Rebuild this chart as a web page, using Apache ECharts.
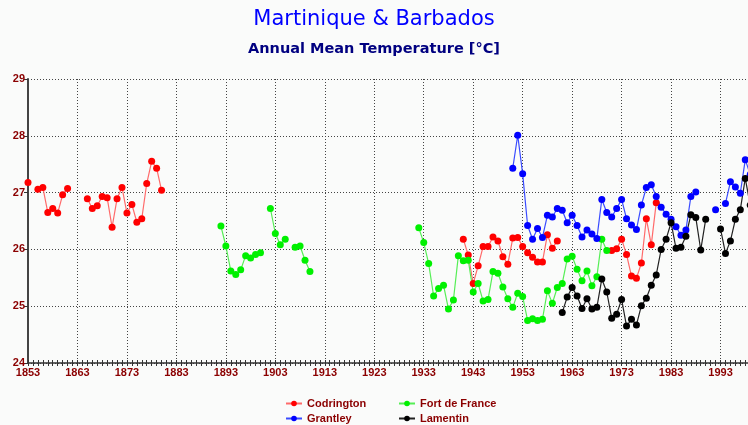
<!DOCTYPE html>
<html>
<head>
<meta charset="utf-8">
<script src="https://cdn.jsdelivr.net/npm/echarts@6/dist/echarts.min.js"></script>
<style>
html,body{margin:0;padding:0;background:#FAFBFA;}
#chart{width:748px;height:425px;}
</style>
</head>
<body>
<div id="chart"></div>
<script>
// ---- Data (null = missing year) ----
var xTickStart = 1853;
var xTickStep = 10;
var yTicks = [24, 25, 26, 27, 28, 29];

var codringtonStart = 1853;
var codringtonTemps = [
  27.18, null, 27.06, 27.09, 26.65, 26.72, 26.64, 26.96, 27.07, null, null, null,
  26.89, 26.72, 26.77, 26.93, 26.91, 26.39, 26.89, 27.09, 26.64, 26.79, 26.48, 26.54,
  27.16, 27.55, 27.43, 27.04
];
var codringtonStart2 = 1941;
var codringtonTemps2 = [
  26.18, 25.90, 25.40, 25.71, 26.05, 26.05, 26.22, 26.15, 25.87, 25.74,
  26.20, 26.21, 26.05, 25.94, 25.86, 25.78, 25.78, 26.26, 26.02, 26.15,
  null, null, null, null, null, null, null, null, null, null,
  25.98, 26.01, 26.18, 25.91, 25.53, 25.49, 25.76, 26.54, 26.08, 26.82
];

var fortDeFranceStart = 1892;
var fortDeFranceTemps = [
  26.41, 26.06, 25.62, 25.56, 25.64, 25.89, 25.85, 25.91, 25.94, null,
  26.72, 26.28, 26.08, 26.18, null, 26.04, 26.06, 25.81, 25.61
];
var fortDeFranceStart2 = 1932;
var fortDeFranceTemps2 = [
  26.38, 26.12, 25.75, 25.18, 25.31, 25.37, 24.95, 25.11, 25.89, 25.80,
  25.81, 25.25, 25.40, 25.09, 25.12, 25.61, 25.58, 25.34, 25.13, 24.98,
  25.23, 25.17, 24.75, 24.78, 24.75, 24.77, 25.27, 25.05, 25.33, 25.40,
  25.83, 25.88, 25.65, 25.45, 25.62, 25.36, 25.52, 26.18, 25.98
];

var grantleyStart = 1951;
var grantleyTemps = [
  27.43, 28.01, 27.33, 26.42, 26.18, 26.37, 26.21, 26.60, 26.57, 26.72,
  26.69, 26.47, 26.60, 26.42, 26.22, 26.34, 26.27, 26.19, 26.88, 26.65,
  26.57, 26.72, 26.88, 26.54, 26.43, 26.35, 26.78, 27.09, 27.14, 26.93,
  26.74, 26.62, 26.53, 26.40, 26.25, 26.34, 26.93, 27.01, null, null,
  null, 26.70, null, 26.81, 27.19, 27.10, 26.99, 27.58, 27.32
];

var lamentinStart = 1961;
var lamentinTemps = [
  24.89, 25.16, 25.33, 25.18, 24.96, 25.13, 24.95, 24.98, 25.48, 25.25,
  24.79, 24.86, 25.12, 24.65, 24.77, 24.67, 25.01, 25.14, 25.37, 25.55,
  26.00, 26.18, 26.47, 26.02, 26.04, 26.23, 26.61, 26.56, 25.99, 26.53,
  null, null, 26.36, 25.93, 26.15, 26.53, 26.70, 27.25, 26.78
];

var seriesNames = ['Codrington', 'Fort de France', 'Grantley', 'Lamentin'];

// ---- helpers ----
function toPairs(start, vals) {
  return vals.map(function (v, i) { return [start + i, v == null ? '-' : v]; });
}
function joinPairs(a, b) {
  return a.concat([[a[a.length - 1][0] + 1, '-']]).concat(b);
}

var codringtonData = joinPairs(toPairs(codringtonStart, codringtonTemps), toPairs(codringtonStart2, codringtonTemps2));
var fortData = joinPairs(toPairs(fortDeFranceStart, fortDeFranceTemps), toPairs(fortDeFranceStart2, fortDeFranceTemps2));
var grantleyData = toPairs(grantleyStart, grantleyTemps);
var lamentinData = toPairs(lamentinStart, lamentinTemps);

var labelRed = '#8B0000';
var font = "'Liberation Sans', Arial, sans-serif";

function mkSeries(name, data, dot, line) {
  return {
    name: name,
    type: 'line',
    data: data,
    connectNulls: false,
    symbol: 'circle',
    symbolSize: 7,
    showSymbol: true,
    clip: true,
    itemStyle: { color: dot },
    lineStyle: { color: line, width: 1.2 },
    emphasis: { disabled: true },
    z: 3
  };
}

var chart = echarts.init(document.getElementById('chart'), null, { renderer: 'canvas' });
chart.setOption({
  animation: false,
  backgroundColor: '#FAFBFA',
  title: [
    {
      text: 'Martinique & Barbados',
      left: 'center',
      top: 4,
      textStyle: { color: '#0000FF', fontSize: 21, fontWeight: 'normal', fontFamily: "'DejaVu Sans', sans-serif" }
    },
    {
      text: 'Annual Mean Temperature [°C]',
      left: 'center',
      top: 37,
      textStyle: { color: '#000080', fontSize: 14.5, fontWeight: 'bold', fontFamily: "'DejaVu Sans', sans-serif" }
    }
  ],
  legend: [
    {
      data: ['Codrington', 'Grantley'],
      orient: 'vertical',
      left: 285,
      top: 398,
      itemWidth: 16,
      itemHeight: 7,
      itemGap: 4,
      padding: 0,
      selectedMode: false,
      textStyle: { color: labelRed, fontSize: 11, fontWeight: 'bold', fontFamily: font, lineHeight: 11 }
    },
    {
      data: ['Fort de France', 'Lamentin'],
      orient: 'vertical',
      left: 398,
      top: 398,
      itemWidth: 16,
      itemHeight: 7,
      itemGap: 4,
      padding: 0,
      selectedMode: false,
      textStyle: { color: labelRed, fontSize: 11, fontWeight: 'bold', fontFamily: font, lineHeight: 11 }
    }
  ],
  grid: { left: 28, top: 79, width: 742, height: 284, containLabel: false, outerBoundsMode: 'none' },
  xAxis: [
    {
      type: 'value',
      min: xTickStart,
      max: 2003,
      interval: xTickStep,
      axisLine: { show: true, onZero: false, lineStyle: { color: '#333', width: 1.5 } },
      axisTick: { show: true, length: 3, lineStyle: { color: '#333' } },
      minorTick: { show: true, splitNumber: 10, length: 3, lineStyle: { color: '#333' } },
      axisLabel: {
        color: labelRed, fontSize: 11, fontWeight: 'bold', fontFamily: font, margin: 4,
        formatter: function (v) { return v > 1995 ? '' : String(v); }
      },
      splitLine: { show: true, lineStyle: { color: '#444', type: [1, 2], width: 1 } }
    },
    {
      type: 'value',
      min: xTickStart,
      max: 2003,
      interval: xTickStep,
      position: 'bottom',
      axisLine: { show: false },
      axisTick: { show: true, inside: true, length: 3, lineStyle: { color: '#333' } },
      minorTick: { show: true, splitNumber: 10, length: 3, lineStyle: { color: '#333' } },
      axisLabel: { show: false },
      splitLine: { show: false }
    }
  ],
  yAxis: {
    type: 'value',
    min: yTicks[0],
    max: yTicks[yTicks.length - 1],
    interval: 1,
    axisLine: { show: true, lineStyle: { color: '#444', width: 2 } },
    axisTick: { show: true, length: 4, lineStyle: { color: '#333' } },
    axisLabel: { color: labelRed, fontSize: 11, fontWeight: 'bold', fontFamily: font, margin: 3 },
    splitLine: { show: true, lineStyle: { color: '#444', type: [1, 2], width: 1 } }
  },
  series: [
    mkSeries(seriesNames[0], codringtonData, '#FF0000', '#FF6A6A'),
    mkSeries(seriesNames[1], fortData, '#00F000', '#55EE55'),
    mkSeries(seriesNames[2], grantleyData, '#0000FF', '#3A4CFF'),
    mkSeries(seriesNames[3], lamentinData, '#000000', '#222222')
  ]
});
</script>
</body>
</html>
